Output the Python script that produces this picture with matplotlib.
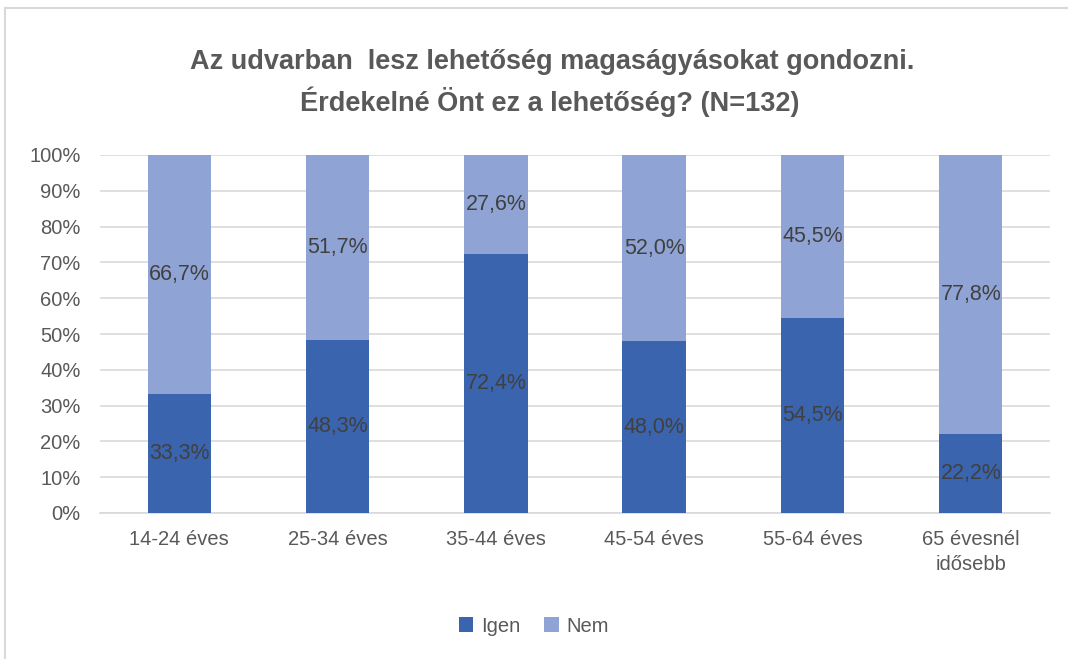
import numpy as np
import matplotlib.pyplot as plt
from matplotlib.patches import Rectangle

# adatok
categories = ['14-24 éves', '25-34 éves', '35-44 éves', '45-54 éves', '55-64 éves', '65 évesnél\nidősebb']
igen = [33.3, 48.3, 72.4, 48.0, 54.5, 22.2]
nem = [66.7, 51.7, 27.6, 52.0, 45.5, 77.8]

c_igen = '#3A64AD'
c_nem = '#8FA4D4'
c_text = '#595959'

plt.rcParams['font.family'] = ['Liberation Sans', 'DejaVu Sans']

fig = plt.figure(figsize=(10.68, 6.59), dpi=100)
ax = fig.add_axes([100 / 1068, 1 - 513 / 659, 950 / 1068, 358 / 659])

x = np.arange(len(categories))
b1 = ax.bar(x, igen, width=0.4, color=c_igen, label='Igen', zorder=3)
b2 = ax.bar(x, nem, width=0.4, bottom=igen, color=c_nem, label='Nem', zorder=3)

for bars, vals, base in [(b1, igen, [0] * 6), (b2, nem, igen)]:
    for rect, v, b in zip(bars, vals, base):
        ax.text(rect.get_x() + rect.get_width() / 2, b + v / 2,
                f'{v:.1f}%'.replace('.', ','), ha='center', va='center',
                fontsize=15.5, color='#404040', zorder=4)

ax.set_xlim(-0.5, len(categories) - 0.5)
ax.set_ylim(0, 100)
ax.set_yticks(np.arange(0, 101, 10))
ax.set_yticklabels([f'{t}%' for t in range(0, 101, 10)])
ax.set_xticks(x)
ax.set_xticklabels(categories, linespacing=1.45)
ax.tick_params(length=0, labelsize=14.5, colors=c_text)
ax.tick_params(axis='x', pad=12)
ax.tick_params(axis='y', pad=14)
ax.yaxis.grid(True, color='#D9D9D9', linewidth=1.2, zorder=0)
for s in ['top', 'right', 'left']:
    ax.spines[s].set_visible(False)
ax.spines['bottom'].set_color('#D9D9D9')
ax.spines['bottom'].set_linewidth(1.2)

fig.text(0.517, 1 - 62 / 659, 'Az udvarban  lesz lehetőség magaságyásokat gondozni.',
         ha='center', va='center', fontsize=19.5, fontweight='bold', color=c_text)
fig.text(0.515, 1 - 102 / 659, 'Érdekelné Önt ez a lehetőség? (N=132)',
         ha='center', va='center', fontsize=19.5, fontweight='bold', color=c_text)

fig.legend(handles=[b1, b2], labels=['Igen', 'Nem'], loc='center',
           bbox_to_anchor=(0.5, 1 - 626 / 659), ncol=2, frameon=False,
           fontsize=14.5, labelcolor=c_text, handlelength=0.7, handleheight=0.7,
           handletextpad=0.4, columnspacing=1.2)

# keret (jobb és alsó széle kilóg a képből)
fig.patches.append(Rectangle((5 / 1068, -0.05), 1.0, 1 - 8 / 659 + 0.05,
                             transform=fig.transFigure, fill=False,
                             edgecolor='#D9D9D9', linewidth=1.5))

fig.savefig('out.png', dpi=100)
